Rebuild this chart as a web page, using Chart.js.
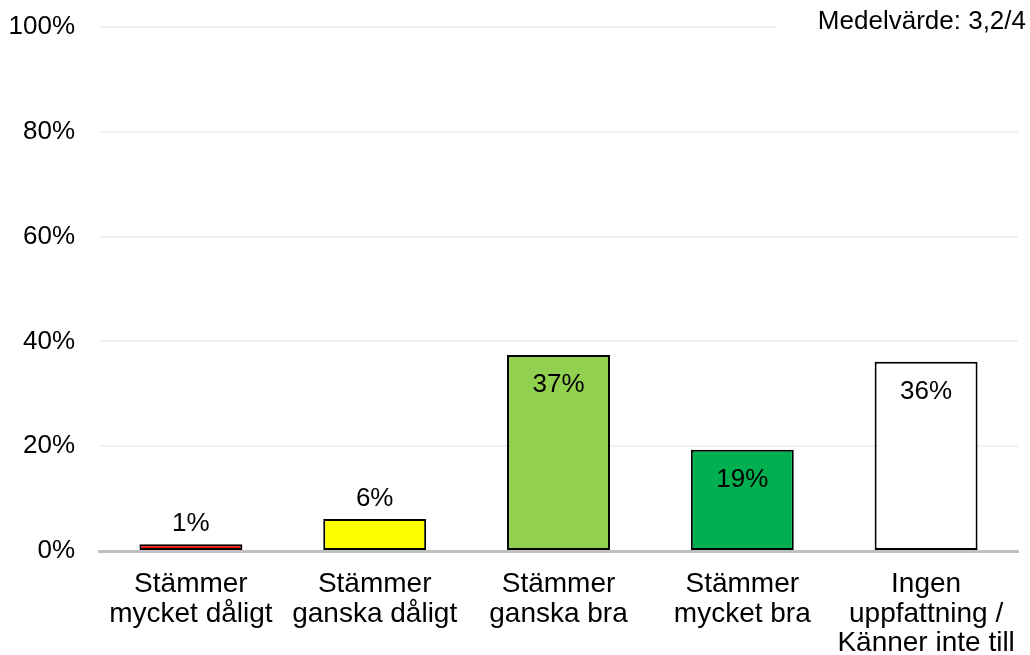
<!DOCTYPE html>
<html><head><meta charset="utf-8">
<script src="https://cdn.jsdelivr.net/npm/chart.js@4/dist/chart.umd.min.js"></script>
<style>html,body{margin:0;padding:0;background:#fff}#wrap{width:1030px;height:655px;position:relative}</style>
</head><body><div id="wrap"><canvas id="c" width="1030" height="655"></canvas></div>
<script>
const categories = [["Stämmer","mycket dåligt"],["Stämmer","ganska dåligt"],["Stämmer","ganska bra"],["Stämmer","mycket bra"],["Ingen","uppfattning /","Känner inte till"]];
const values = [1.3, 6.1, 37.4, 19.3, 36.1];
const valueLabels = ["1%","6%","37%","19%","36%"];
const barColors = ["#ff0000","#ffff00","#92d050","#00b050","#ffffff"];
const yTicks = [0,20,40,60,80,100];
const meanText = "Medelvärde: 3,2/4";
const FONT = "'Liberation Sans', Arial, sans-serif";
const FS = 26;
const FSX = 28;

const labelPlugin = {
  id:'labels',
  afterDatasetsDraw(chart){
    const ctx = chart.ctx;
    const meta = chart.getDatasetMeta(0);
    ctx.save();
    ctx.font = FS + "px " + FONT;
    ctx.fillStyle = "#000";
    ctx.textAlign = "center";
    ctx.textBaseline = "middle";
    meta.data.forEach((bar,i)=>{
      const y = values[i] > 10 ? bar.y + 30 : bar.y - 20;
      ctx.fillText(valueLabels[i], bar.x, y);
    });
    ctx.restore();
  },
  afterDraw(chart){
    const ctx = chart.ctx;
    ctx.save();
    ctx.fillStyle = "#fff";
    ctx.fillRect(776, 3, 254, 44);
    ctx.font = FS + "px " + FONT;
    ctx.fillStyle = "#000";
    ctx.textAlign = "right";
    ctx.textBaseline = "middle";
    ctx.fillText(meanText, 1026, 22);
    ctx.restore();
  }
};

new Chart(document.getElementById('c'), {
  type:'bar',
  data:{labels:categories, datasets:[{data:values, backgroundColor:barColors, borderColor:"#000", borderWidth:2, borderSkipped:false, barPercentage:0.56, categoryPercentage:1}]},
  options:{
    responsive:false, animation:false,
    layout:{padding:{top:27,right:12,left:0,bottom:0}},
    plugins:{legend:{display:false}, tooltip:{enabled:false}},
    scales:{
      x:{grid:{display:false, drawTicks:false}, border:{color:"#bfbfbf", width:3},
         afterFit(s){ s.paddingLeft = 0; s.paddingRight = 0; s.height = 104; },
         ticks:{color:"#000", font:{family:FONT,size:FSX,lineHeight:1.05}, padding:19, maxRotation:0, autoSkip:false}},
      y:{min:0,max:100, afterBuildTicks(s){s.ticks = yTicks.map(v=>({value:v}));},
         afterFit(s){ s.width = 99; s.paddingTop = 0; s.paddingBottom = 0; },
         grid:{color:"#f0f0f0", lineWidth:2, drawTicks:false}, border:{display:false},
         ticks:{color:"#000", font:{family:FONT,size:FS}, padding:24, callback:v=>v+"%"}}
    }
  },
  plugins:[labelPlugin]
});
</script></body></html>
